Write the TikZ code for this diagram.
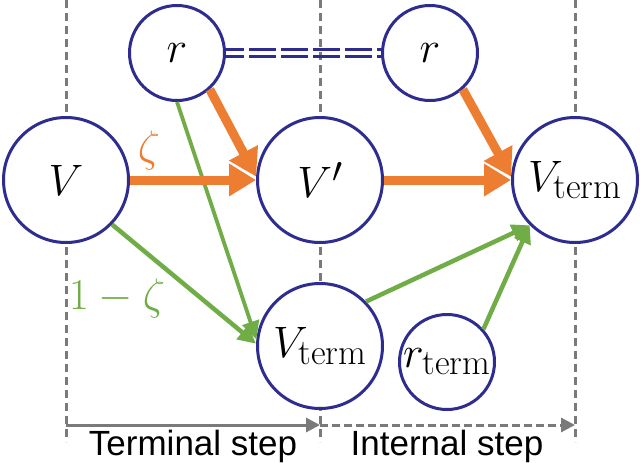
\RequirePackage{fix-cm}
\documentclass[tikz,border=0pt]{standalone}
\usepackage{fontspec}
\setsansfont{Liberation Sans}
\usetikzlibrary{arrows.meta}
\DeclareMathSizes{44}{44}{36}{26}
\definecolor{navy}{HTML}{2E2D8F}
\definecolor{orng}{HTML}{ED7D31}
\definecolor{grn}{HTML}{70AD47}
\definecolor{gry}{HTML}{7A7A7A}
\begin{document}
\begin{tikzpicture}[x=1pt,y=-1pt,
  circ/.style={circle, draw=navy, line width=3pt, fill=white, inner sep=0pt,
    font=\fontsize{44}{52}\selectfont},
  bigc/.style={circ, minimum size=125pt},
  smallc/.style={circ, minimum size=95pt},
  guide/.style={draw=gry, line width=3pt, dash pattern=on 8pt off 5pt},
  steparrow/.style={draw=gry, line width=3pt, -{Triangle[length=14pt,width=14pt]}},
  stepdashed/.style={steparrow, dash pattern=on 8pt off 4pt},
  steplabel/.style={font=\sffamily\fontsize{35}{40}\selectfont, inner sep=0pt},
  orangearrow/.style={draw=orng, line width=9pt, -{Triangle[length=27pt,width=31pt]}},
  greenarrow/.style={draw=grn, line width=4.5pt, -{Triangle[length=18pt,width=17pt]}},
  equalline/.style={draw=navy, line width=3pt, dash pattern=on 27pt off 5pt, dash phase=9pt},
  mathlabel/.style={font=\fontsize{44}{52}\selectfont, inner sep=0pt}
]
\useasboundingbox (0,0) rectangle (640,463);
% guide lines
\coordinate (g1t) at (66,0);   \coordinate (g1b) at (66,442);
\coordinate (g2t) at (320,0);  \coordinate (g2b) at (320,442);
\coordinate (g3t) at (575,0);  \coordinate (g3b) at (575,442);
\draw[guide] (g1t) -- (g1b);
\draw[guide] (g2t) -- (g2b);
\draw[guide] (g3t) -- (g3b);
% step arrows
\coordinate (s1) at (66,425);
\coordinate (s2) at (320,425);
\coordinate (s3) at (575,425);
\draw[steparrow] (s1) -- (s2);
\draw[stepdashed] (s2) -- (s3);
\node[steplabel] (tl) at (193,446) {Terminal step};
\node[steplabel] (il) at (447,446) {Internal step};
% nodes
\node[bigc] (V) at (66,180) {$V$};
\node[bigc] (Vp) at (320,180) {$V'$};
\node[bigc] (Vt) at (575,180) {$V_{\mathrm{term}}$};
\node[smallc] (r1) at (177,53) {$r$};
\node[smallc] (r2) at (430,53) {$r$};
\node[bigc] (Vb) at (320,346) {$V_{\mathrm{term}}$};
\node[smallc] (rt) at (447,362) {$r_{\mathrm{term}}$};
% equality link
\draw[equalline] ([yshift=3.3pt]r1.east) -- ([yshift=3.3pt]r2.west);
\draw[equalline] ([yshift=-3.3pt]r1.east) -- ([yshift=-3.3pt]r2.west);
% green arrows
\draw[greenarrow] (V.-44) -- (Vb.178);
\draw[greenarrow, line width=3.8pt] (r1.-90) -- (Vb.174);
\draw[greenarrow] (Vb.44) -- (Vt.225);
\draw[greenarrow] (rt.42) -- (Vt.225);
% orange arrows
\draw[orangearrow] (V.east) -- (Vp.west);
\draw[orangearrow] (r1.-48) -- (Vp.177);
\draw[orangearrow] (Vp.east) -- (Vt.west);
\draw[orangearrow] (r2.-48) -- (Vt.177);
% labels
\node[mathlabel, text=orng] (zl) at (149,150) {$\zeta$};
\node[mathlabel, text=grn] (ozl) at (117,298) {$1-\zeta$};
\end{tikzpicture}
\end{document}
